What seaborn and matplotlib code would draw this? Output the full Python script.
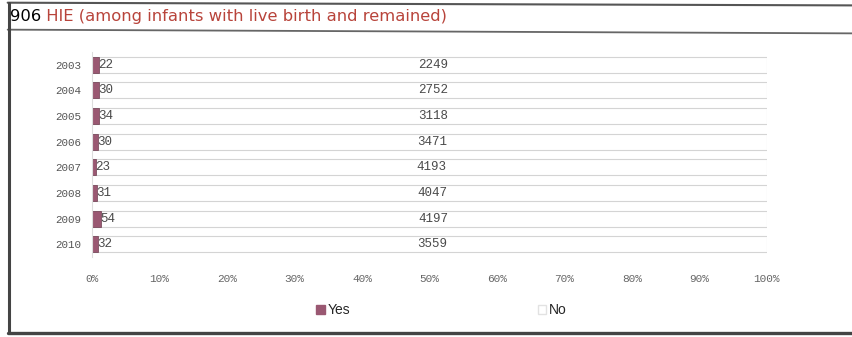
import pandas as pd
import matplotlib
matplotlib.use("Agg")
import matplotlib.pyplot as plt
import seaborn as sns
from matplotlib.lines import Line2D
from matplotlib.patches import Patch
from matplotlib.ticker import PercentFormatter

# Data
years = ["2003", "2004", "2005", "2006", "2007", "2008", "2009", "2010"]
yes_counts = [22, 30, 34, 30, 23, 31, 54, 32]
no_counts = [2249, 2752, 3118, 3471, 4193, 4047, 4197, 3559]
x_ticks = [0, 10, 20, 30, 40, 50, 60, 70, 80, 90, 100]

YES_COLOR = "#9a5872"
MONO = "Liberation Mono"

sns.set_theme(style="white")
plt.rcParams["font.family"] = ["DejaVu Sans"]

df = pd.DataFrame({"Year": years, "Yes": yes_counts, "No": no_counts})
df["Total"] = df["Yes"] + df["No"]
df["YesPct"] = df["Yes"] / df["Total"] * 100
df["CumPct"] = (df["Yes"] + df["No"]) / df["Total"] * 100

fig = plt.figure(figsize=(8.52, 3.37), dpi=100)
ax = fig.add_axes([0.108, 0.237, 0.792, 0.609])

# stacked 100% bars: No drawn full length, Yes on top of it
sns.barplot(data=df, x="CumPct", y="Year", order=years, orient="h",
            color="white", edgecolor="#d4d4d4", linewidth=0.8,
            width=0.63, ax=ax)
sns.barplot(data=df, x="YesPct", y="Year", order=years, orient="h",
            color=YES_COLOR, saturation=1, edgecolor="#6e3d50", linewidth=0.5,
            width=0.63, ax=ax)

for i, row in df.iterrows():
    ax.annotate(str(row["Yes"]), xy=(row["YesPct"], i), xytext=(-0.5, 0),
                textcoords="offset points", ha="left", va="center",
                fontsize=9, family=MONO, color="#4a4a4a")
    ax.text((row["YesPct"] + row["CumPct"]) / 2, i, str(row["No"]),
            ha="center", va="center", fontsize=9, family=MONO, color="#4a4a4a")

ax.set_xlim(0, 100)
ax.set_ylim(7.5, -0.5)
ax.set_xticks(x_ticks)
ax.xaxis.set_major_formatter(PercentFormatter(decimals=0))
ax.set_xlabel("")
ax.set_ylabel("")
ax.tick_params(axis="x", length=0, pad=12, labelsize=8, labelcolor="#666666")
ax.tick_params(axis="y", length=0, pad=8, labelsize=7.8, labelcolor="#555555")
for lab in ax.get_xticklabels() + ax.get_yticklabels():
    lab.set_family(MONO)
for side in ["top", "right", "bottom"]:
    ax.spines[side].set_visible(False)
ax.spines["left"].set_color("#dddddd")
ax.spines["left"].set_linewidth(0.8)

handles = [Patch(facecolor=YES_COLOR, edgecolor=YES_COLOR, label="Yes"),
           Patch(facecolor="white", edgecolor="#e2e2e2", label="No")]
fig.legend(handles=handles, loc="center", bbox_to_anchor=(0.518, 0.08), ncol=2,
           frameon=False, handlelength=0.6, handleheight=0.6, handletextpad=0.2,
           columnspacing=13.5, prop={"family": "Liberation Sans", "size": 10})

# title bar
t = fig.text(0.012, 0.952, "906", fontsize=11.8, color="black", va="center")
ax.annotate(" HIE (among infants with live birth and remained)", xycoords=t,
            xy=(1, 0), va="bottom", ha="left", fontsize=11.8, color="#b8443b",
            annotation_clip=False)

# frame lines
fig.add_artist(Line2D([0.009, 1.0], [0.992, 0.984], transform=fig.transFigure,
                      color="#555555", lw=1.5))
fig.add_artist(Line2D([0.009, 1.0], [0.912, 0.901], transform=fig.transFigure,
                      color="#666666", lw=1.3))
fig.add_artist(Line2D([0.010, 0.010], [0.012, 0.992], transform=fig.transFigure,
                      color="#444444", lw=2.2))
fig.add_artist(Line2D([0.009, 1.0], [0.012, 0.012], transform=fig.transFigure,
                      color="#444444", lw=2.4))

fig.savefig("out.png", dpi=100)
